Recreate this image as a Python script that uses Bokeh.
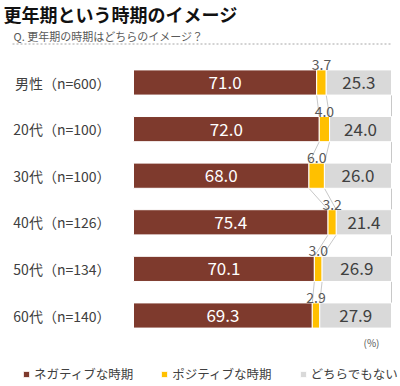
from bokeh.plotting import figure
from bokeh.models import (ColumnDataSource, Range1d, Label, Legend, LegendItem, Arrow)
from bokeh.core.properties import value
from bokeh.embed import file_html
from bokeh.resources import INLINE

# ---- data ----
categories = ["男性（n=600）", "20代（n=100）", "30代（n=100）", "40代（n=126）", "50代（n=134）", "60代（n=140）"]
negative = [71.0, 72.0, 68.0, 75.4, 70.1, 69.3]
positive = [3.7, 4.0, 6.0, 3.2, 3.0, 2.9]
neutral = [25.3, 24.0, 26.0, 21.4, 26.9, 27.9]
series_names = ["ネガティブな時期", "ポジティブな時期", "どちらでもない"]
title_text = "更年期という時期のイメージ"
subtitle_text = "Q. 更年期の時期はどちらのイメージ？"
unit_text = "(%)"

C_NEG = "#7E3A2D"
C_POS = "#FFC000"
C_NEU = "#D9D9D9"
FONT = "Noto Sans CJK JP"
BAR_H = 0.54

W, H = 400, 386
PLOT_L, PLOT_R = 133, 391      # pixel span of 0..100 %
ROW0, ROW_STEP = 82, 46.6      # pixel centre of first row, row spacing

n = len(categories)
ys = [n - 1 - i for i in range(n)]
neg_end = negative[:]
pos_end = [a + b for a, b in zip(negative, positive)]
neu_end = [min(a + b + c, 100) for a, b, c in zip(negative, positive, neutral)]

src = ColumnDataSource(dict(
    y=ys, zero=[0] * n, neg_end=neg_end, pos_end=pos_end, neu_end=neu_end,
    cat=categories,
    neg_c=[v / 2 for v in negative],
    pos_c=[a + b / 2 for a, b in zip(negative, positive)],
    neu_c=[a + b + c / 2 for a, b, c in zip(negative, positive, neutral)],
    neg_t=[f"{v:.1f}" for v in negative],
    pos_t=[f"{v:.1f}" for v in positive],
    neu_t=[f"{v:.1f}" for v in neutral],
    top=[y + BAR_H / 2 for y in ys],
))

px = 100 / (PLOT_R - PLOT_L)
x_range = Range1d(-PLOT_L * px, 100 + (W - PLOT_R) * px)
y_top = (n - 1) + ROW0 / ROW_STEP
y_bot = (n - 1) - (H - ROW0) / ROW_STEP
y_range = Range1d(y_bot, y_top)

p = figure(width=W, height=H, output_backend="svg", toolbar_location=None,
           x_range=x_range, y_range=y_range,
           min_border_left=0, min_border_right=0, min_border_top=0, min_border_bottom=0)
p.outline_line_color = None
p.grid.visible = False
p.axis.visible = False
p.background_fill_color = "white"
p.border_fill_color = "white"

# connectors between bars
for ends in (neg_end, pos_end, neu_end):
    xs0, ys0, xs1, ys1 = [], [], [], []
    for i in range(n - 1):
        xs0.append(ends[i]); ys0.append(ys[i] - BAR_H / 2)
        xs1.append(ends[i + 1]); ys1.append(ys[i + 1] + BAR_H / 2)
    p.segment(x0=xs0, y0=ys0, x1=xs1, y1=ys1, line_color="#C8C8C8", line_width=1)

r_neg = p.hbar(y="y", left="zero", right="neg_end", height=BAR_H, source=src,
               fill_color=C_NEG, line_color="white", line_width=1)
r_pos = p.hbar(y="y", left="neg_end", right="pos_end", height=BAR_H, source=src,
               fill_color=C_POS, line_color="white", line_width=1)
r_neu = p.hbar(y="y", left="pos_end", right="neu_end", height=BAR_H, source=src,
               fill_color=C_NEU, line_color="white", line_width=1)

p.text(x="neg_c", y="y", text="neg_t", source=src, text_font=value(FONT), text_font_size="17px",
       text_align="center", text_baseline="middle", text_color="white")
p.text(x="neu_c", y="y", text="neu_t", source=src, text_font=value(FONT), text_font_size="17px",
       text_align="center", text_baseline="middle", text_color="#404040")
p.text(x="pos_c", y="top", text="pos_t", source=src, text_font=value(FONT), text_font_size="14px",
       text_align="center", text_baseline="bottom", text_color="#595959", y_offset=0)

# category labels
p.text(x="zero", y="y", text="cat", source=src, text_font=value(FONT), text_font_size="14px",
       text_align="right", text_baseline="middle", text_color="#404040", x_offset=-23)

# title / subtitle / divider / unit
p.add_layout(Label(x=3, y=H - 13, x_units="screen", y_units="screen", text=title_text,
                   text_font=FONT, text_font_size="18px", text_font_style="bold",
                   text_baseline="middle", text_color="#111111"))
p.add_layout(Label(x=13, y=H - 35, x_units="screen", y_units="screen", text=subtitle_text,
                   text_font=FONT, text_font_size="11px", text_baseline="middle",
                   text_color="#595959"))
p.add_layout(Arrow(x_start=12, y_start=H - 43.5, x_end=390, y_end=H - 43.5,
                   start_units="screen", end_units="screen", start=None, end=None,
                   line_color="#A6A6A6", line_dash="2 2", line_width=1))
p.add_layout(Label(x=371, y=H - 342, x_units="screen", y_units="screen", text=unit_text,
                   text_font=FONT, text_font_size="10px", text_align="center",
                   text_baseline="middle", text_color="#595959"))

legend = Legend(items=[LegendItem(label=series_names[0], renderers=[r_neg]),
                       LegendItem(label=series_names[1], renderers=[r_pos]),
                       LegendItem(label=series_names[2], renderers=[r_neu])],
                location=(22, 3), orientation="horizontal",
                glyph_width=8, glyph_height=8, label_standoff=4, spacing=27,
                padding=0, margin=0, border_line_color=None, background_fill_alpha=0,
                label_text_font=FONT, label_text_font_size="12.5px", label_text_color="#404040",
                label_height=14)
p.add_layout(legend, "center")

open("out.html", "w").write(file_html(p, INLINE))
